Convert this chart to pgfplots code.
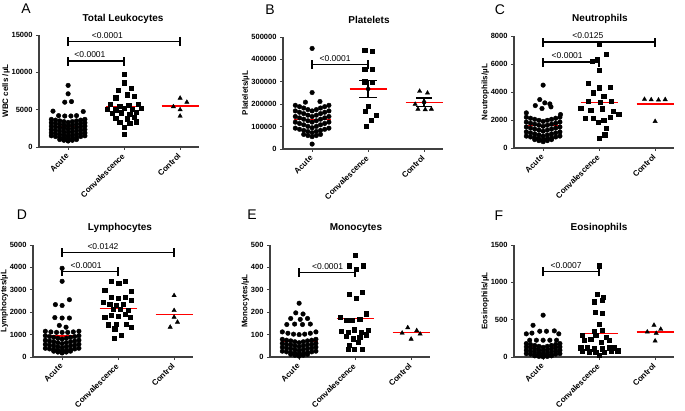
\documentclass[border=0pt]{standalone}
\usepackage{fontspec}
\setmainfont{Liberation Sans}
\usepackage{pgfplots}
\pgfplotsset{compat=1.18}

\pgfplotsset{
  panel/.style={
    scale only axis, width=159.6pt, height=112pt,
    xmin=-0.52, xmax=2.33, ymin=0,
    axis x line=bottom, axis y line=left,
    axis line style={-, line width=1.1pt, black!75},
    tick align=outside, major tick length=3pt,
    tick style={line width=0.9pt, black!75},
    xtick={0,1,2}, xticklabels={Acute,Convalescence,Control},
    xticklabel shift=4pt,
    xticklabel style={rotate=45, anchor=east, inner sep=1pt,
      font=\bfseries\fontsize{8}{9}\selectfont},
    yticklabel style={font=\bfseries\fontsize{7.5}{9}\selectfont},
    ylabel style={font=\bfseries\fontsize{8}{9}\selectfont},
    ylabel shift=-5pt,
    scaled y ticks=false, clip=false,
  },
  dots/.style={only marks, mark=*, mark size=2.3pt, black},
  sq/.style={only marks, mark=square*, mark size=2.1pt, black},
  tri/.style={only marks, mark=triangle*, mark size=2.5pt, black},
  meanln/.style={red, line width=1.3pt, no marks},
}
% bracket: from x1 to x2 at height y, p-value text centred at xt
\newcommand\brk[5]{%
  \draw[line width=1.3pt] (axis cs:#1,#3) -- (axis cs:#2,#3);
  \draw[line width=1.3pt] ([yshift=-4.5pt]axis cs:#1,#3) -- ([yshift=4.5pt]axis cs:#1,#3);
  \draw[line width=1.3pt] ([yshift=-4.5pt]axis cs:#2,#3) -- ([yshift=4.5pt]axis cs:#2,#3);
  \node[anchor=south, inner sep=0pt, yshift=3pt, font=\fontsize{8.5}{10}\selectfont] at (axis cs:#4,#3) {#5};
}

\begin{document}
\begin{tikzpicture}
\useasboundingbox (0,0) rectangle (685pt,410pt);

% ---------- A ----------
\begin{axis}[panel, at={(39pt,263pt)}, anchor=south west, ymax=15000,
  ytick={0,5000,10000,15000}, yticklabels={0,5000,10000,15000},
  ylabel={WBC cells /µL}]
\addplot[dots] coordinates {
 (0,8250) (0,7125) (-0.06,6000) (0.06,6085) (-0.27,4800) (0.27,4750)
 (-0.17,4200) (-0.06,4150) (0.05,4150) (0.15,4200)
 (-0.3,3700) (-0.225,3600) (-0.15,3500) (-0.075,3400) (0,3300) (0.075,3400) (0.15,3500) (0.225,3600) (0.3,3700)
 (-0.3,3250) (-0.225,3150) (-0.15,3050) (-0.075,2950) (0,2850) (0.075,2950) (0.15,3050) (0.225,3150) (0.3,3250)
 (-0.3,2800) (-0.225,2700) (-0.15,2600) (-0.075,2500) (0,2400) (0.075,2500) (0.15,2600) (0.225,2700) (0.3,2800)
 (-0.3,2350) (-0.225,2250) (-0.15,2150) (-0.075,2050) (0,1950) (0.075,2050) (0.15,2150) (0.225,2250) (0.3,2350)
 (-0.3,1900) (-0.225,1800) (-0.15,1700) (-0.075,1600) (0,1500) (0.075,1600) (0.15,1700) (0.225,1800) (0.3,1900)
 (-0.3,1500) (-0.225,1400) (-0.15,1300) (-0.075,1200) (0,1100) (0.075,1200) (0.15,1300) (0.225,1400) (0.3,1500)
 (-0.15,1000) (-0.075,900) (0,800) (0.075,900) (0.15,1000)
};
\addplot[sq] coordinates {
 (1,9700) (1,8600) (0.9,7600) (1.12,7900) (1.05,7000) (0.85,6600) (1.18,6800)
 (0.75,5700) (0.92,5500) (1.08,5600) (1.25,5700) (0.7,5100) (0.85,5000) (1,5200)
 (1.15,5050) (1.3,5200) (0.78,4500) (0.95,4600) (1.1,4400) (1.22,4700) (0.85,3900)
 (1.05,3800) (1.18,4000) (0.92,3300) (1.1,3200) (1.22,3400) (1,2700) (1,1700)
};
\addplot[tri] coordinates {(2,6550) (2.12,6000) (1.88,5400) (2,5000) (2,4150)};
\addplot[meanln] coordinates {(-0.33,2700) (0.33,2700)};
\addplot[meanln] coordinates {(0.67,5400) (1.33,5400)};
\addplot[meanln] coordinates {(1.67,5500) (2.33,5500)};
\brk{0}{2}{14100}{0.7}{<0.0001}
\brk{0}{1}{11500}{0.39}{<0.0001}
\end{axis}

% ---------- B ----------
\begin{axis}[panel, at={(283pt,261pt)}, anchor=south west, ymax=500000,
  ytick={0,100000,200000,300000,400000,500000},
  yticklabels={0,100000,200000,300000,400000,500000},
  ylabel={Platelets/µL}]
\addplot[dots] coordinates {
 (0,449000) (0,252000) (-0.12,209000) (0.14,212000) (0,22000)
 (-0.3,195000) (-0.225,189000) (-0.15,183000) (-0.075,176000) (0,170000) (0.075,176000) (0.15,183000) (0.225,189000) (0.3,195000)
 (-0.3,170000) (-0.225,164000) (-0.15,158000) (-0.075,151000) (0,145000) (0.075,151000) (0.15,158000) (0.225,164000) (0.3,170000)
 (-0.3,145000) (-0.225,139000) (-0.15,133000) (-0.075,126000) (0,120000) (0.075,126000) (0.15,133000) (0.225,139000) (0.3,145000)
 (-0.3,120000) (-0.225,114000) (-0.15,108000) (-0.075,101000) (0,95000) (0.075,101000) (0.15,108000) (0.225,114000) (0.3,120000)
 (-0.3,93000) (-0.225,88000) (-0.15,83000) (-0.075,78000) (0,73000) (0.075,78000) (0.15,83000) (0.225,88000) (0.3,93000)
 (-0.15,65000) (-0.075,60000) (0,55000) (0.075,60000) (0.15,65000)
};
\addplot[sq] coordinates {
 (0.94,441000) (1.07,437000) (0.94,356000) (1.07,356000) (0.94,300000) (1.07,298000)
 (1.0,190000) (0.95,168000) (1.14,152000) (1.06,130000) (0.96,103000)
};
\addplot[tri] coordinates {(1.92,258000) (2.06,250000) (1.84,200000) (1.89,178000) (2.02,176000) (2.13,178000)};
\addplot[black, only marks, mark=none, error bars/.cd, y dir=both, y explicit,
  error bar style={line width=1.3pt, black},
  error mark options={rotate=90, mark size=8.7pt, line width=1.3pt, black}]
  coordinates {(1,268000) +- (0,37000)};
\addplot[black, only marks, mark=none, error bars/.cd, y dir=both, y explicit,
  error bar style={line width=1.3pt, black},
  error mark options={rotate=90, mark size=7.8pt, line width=1.3pt, black}]
  coordinates {(2,209000) +- (0,18500)};
\addplot[meanln] coordinates {(-0.33,132000) (0.33,132000)};
\addplot[meanln] coordinates {(0.67,268000) (1.33,268000)};
\addplot[meanln] coordinates {(1.67,209000) (2.33,209000)};
\brk{0}{1}{378000}{0.41}{<0.0001}
\end{axis}

% ---------- C ----------
\begin{axis}[panel, at={(514pt,262pt)}, anchor=south west, ymax=8000,
  ytick={0,2000,4000,6000,8000}, yticklabels={0,2000,4000,6000,8000},
  ylabel={Neutrophils/µL}]
\addplot[dots] coordinates {
 (0,4490) (-0.06,3460) (-0.14,3030) (0.03,3225) (0.12,3150) (0.14,2940) (-0.02,2820) (-0.3,2510) (0.31,2390)
 (-0.3,2200) (-0.225,2125) (-0.15,2050) (-0.075,1975) (0,1900) (0.075,1975) (0.15,2050) (0.225,2125) (0.3,2200)
 (-0.3,1850) (-0.225,1775) (-0.15,1700) (-0.075,1625) (0,1550) (0.075,1625) (0.15,1700) (0.225,1775) (0.3,1850)
 (-0.3,1500) (-0.225,1425) (-0.15,1350) (-0.075,1275) (0,1200) (0.075,1275) (0.15,1350) (0.225,1425) (0.3,1500)
 (-0.3,1150) (-0.225,1075) (-0.15,1000) (-0.075,925) (0,850) (0.075,925) (0.15,1000) (0.225,1075) (0.3,1150)
 (-0.3,850) (-0.225,788) (-0.15,725) (-0.075,663) (0,600) (0.075,663) (0.15,725) (0.225,788) (0.3,850)
 (-0.15,600) (-0.075,525) (0,450) (0.075,525) (0.15,600)
};
\addplot[sq] coordinates {
 (1,7450) (1.12,6700) (0.88,6200) (0.96,6350) (1,5550) (0.8,4600) (1,4300) (1.2,4350)
 (0.9,3950) (1.08,3700) (0.8,3350) (1.02,3250) (1.22,3350) (0.67,2850) (0.85,2700)
 (1.05,2800) (1.25,2650) (1.35,2400) (0.75,2150) (0.9,2100) (1.08,2000) (1.2,2200)
 (0.98,1850) (1.12,1400) (1.1,950) (1,700)
};
\addplot[tri] coordinates {(1.81,3480) (1.93,3450) (2.06,3430) (2.18,3460) (2,1900)};
\addplot[meanln] coordinates {(-0.33,1600) (0.33,1600)};
\addplot[meanln] coordinates {(0.67,3225) (1.33,3225)};
\addplot[meanln] coordinates {(1.67,3150) (2.33,3150)};
\brk{0}{2}{7570}{0.8}{<0.0125}
\brk{0}{1}{6136}{0.43}{<0.0001}
\end{axis}

% ---------- D ----------
\begin{axis}[panel, at={(33pt,53pt)}, anchor=south west, ymax=5000,
  ytick={0,1000,2000,3000,4000,5000}, yticklabels={0,1000,2000,3000,4000,5000},
  ylabel={Lymphocytes/µL}]
\addplot[dots] coordinates {
 (0,3960) (0,3380) (0.13,2560) (-0.12,2340) (0,2300) (-0.13,1760) (0,1740) (0.13,1740) (-0.05,1410) (0.07,1330)
 (-0.3,1150) (-0.2,1120) (-0.1,1100) (0,1100) (0.1,1100) (0.2,1120) (0.3,1150)
 (-0.3,950) (-0.225,913) (-0.15,875) (-0.075,838) (0,800) (0.075,838) (0.15,875) (0.225,913) (0.3,950)
 (-0.3,750) (-0.225,713) (-0.15,675) (-0.075,638) (0,600) (0.075,638) (0.15,675) (0.225,713) (0.3,750)
 (-0.3,570) (-0.225,533) (-0.15,495) (-0.075,458) (0,420) (0.075,458) (0.15,495) (0.225,533) (0.3,570)
 (-0.3,390) (-0.225,360) (-0.15,330) (-0.075,300) (0,270) (0.075,300) (0.15,330) (0.225,360) (0.3,390)
 (-0.15,260) (-0.075,220) (0,180) (0.075,220) (0.15,260)
};
\addplot[sq] coordinates {
 (0.88,3381) (1.01,3309) (1.12,3381) (0.76,2967) (1.24,2936) (0.88,2669) (1,2625)
 (1.12,2669) (0.73,2447) (0.85,2373) (0.97,2300) (1.09,2373) (1.24,2522) (0.91,2150)
 (1.03,2150) (1.18,2100) (0.76,1780) (0.88,1850) (1,1820) (1.12,1900) (1.21,1780)
 (0.82,1440) (0.97,1460) (1.15,1460) (0.94,1263) (1.24,1337) (1.06,965) (0.93,845)
};
\addplot[tri] coordinates {(2,2744) (2,2077) (2,1780) (2.06,1557) (1.93,1334)};
\addplot[meanln] coordinates {(-0.33,934) (0.33,934)};
\addplot[meanln] coordinates {(0.67,2152) (1.33,2152)};
\addplot[meanln] coordinates {(1.67,1900) (2.33,1900)};
\brk{0}{2}{4671}{0.73}{<0.0142}
\brk{0}{1}{3812}{0.43}{<0.0001}
\end{axis}

% ---------- E ----------
\begin{axis}[panel, at={(270pt,53pt)}, anchor=south west, ymax=500,
  ytick={0,100,200,300,400,500}, yticklabels={0,100,200,300,400,500},
  ylabel={Monocytes/µL}]
\addplot[dots] coordinates {
 (0,240) (-0.06,197) (0.07,192) (-0.15,172) (0.02,168) (0.15,172) (-0.22,145) (-0.08,147) (0.06,145) (0.2,147)
 (-0.3,112) (-0.2,106) (-0.1,102) (0,100) (0.1,102) (0.2,106) (0.3,112)
 (-0.3,79) (-0.225,75) (-0.15,72) (-0.075,68) (0,64) (0.075,68) (0.15,72) (0.225,75) (0.3,79)
 (-0.3,61) (-0.225,57) (-0.15,54) (-0.075,50) (0,46) (0.075,50) (0.15,54) (0.225,57) (0.3,61)
 (-0.3,44) (-0.225,40) (-0.15,37) (-0.075,33) (0,29) (0.075,33) (0.15,37) (0.225,40) (0.3,44)
 (-0.3,26) (-0.225,23) (-0.15,20) (-0.075,17) (0,14) (0.075,17) (0.15,20) (0.225,23) (0.3,26)
 (-0.15,12) (-0.075,8) (0,4) (0.075,8) (0.15,12)
};
\addplot[sq] coordinates {
 (1,455) (0.9,408) (1.14,408) (1.02,393) (0.89,282) (1.12,289) (1.02,262) (1.2,193)
 (0.74,178) (0.84,166) (0.94,166) (1.08,170) (0.75,116) (0.87,111) (0.98,122) (1.11,111)
 (1.24,119) (0.84,92) (0.96,82) (1.08,87) (1.2,100) (0.9,52) (1.06,67) (0.87,34) (0.99,34) (1.12,34)
};
\addplot[tri] coordinates {(1.94,131) (2.1,118) (1.84,107) (2.16,103) (2,80)};
\addplot[meanln] coordinates {(-0.33,69) (0.33,69)};
\addplot[meanln] coordinates {(0.67,173) (1.33,173)};
\addplot[meanln] coordinates {(1.67,110) (2.33,110)};
\brk{0}{1}{378}{0.51}{<0.0001}
\end{axis}

% ---------- F ----------
\begin{axis}[panel, at={(514pt,53pt)}, anchor=south west, ymax=1500,
  ytick={0,500,1000,1500}, yticklabels={0,500,1000,1500},
  ylabel={Eosinophils/µL}]
\addplot[dots] coordinates {
 (0,560) (-0.18,425) (-0.3,310) (-0.2,320) (-0.06,345) (0.06,345) (0.2,350) (0.28,310)
 (-0.24,225) (-0.12,225) (0,225) (0.12,225) (0.24,225)
 (-0.3,180) (-0.225,168) (-0.15,155) (-0.075,143) (0,130) (0.075,143) (0.15,155) (0.225,168) (0.3,180)
 (-0.3,135) (-0.225,123) (-0.15,110) (-0.075,98) (0,85) (0.075,98) (0.15,110) (0.225,123) (0.3,135)
 (-0.3,90) (-0.225,79) (-0.15,68) (-0.075,56) (0,45) (0.075,56) (0.15,68) (0.225,79) (0.3,90)
 (-0.3,45) (-0.225,38) (-0.15,30) (-0.075,23) (0,15) (0.075,23) (0.15,30) (0.225,38) (0.3,45)
 (-0.15,15) (-0.075,8) (0,3) (0.075,8) (0.15,15)
};
\addplot[sq] coordinates {
 (1,1222) (0.97,840) (1.07,805) (0.91,740) (1.06,760) (0.93,596) (1.05,583) (1,439)
 (0.91,345) (1.06,359) (0.7,291) (1.12,269) (0.94,291) (0.73,224) (0.85,238) (1.03,202)
 (1.18,224) (0.67,124) (0.79,124) (0.91,110) (1.06,110) (1.18,124) (1.27,124) (1,23)
 (0.7,80) (0.82,70) (0.94,60) (1.09,65) (1.21,75) (1.33,85)
};
\addplot[tri] coordinates {(1.98,426) (2.1,372) (1.86,336) (2.02,318) (2,215)};
\addplot[meanln] coordinates {(-0.33,144) (0.33,144)};
\addplot[meanln] coordinates {(0.67,314) (1.33,314)};
\addplot[meanln] coordinates {(1.67,333) (2.33,333)};
\brk{0}{1}{1141}{0.41}{<0.0007}
\end{axis}

% titles and panel letters
\begin{scope}[every node/.style={font=\bfseries\fontsize{10}{12}\selectfont}]
\node at (123pt,391pt) {Total Leukocytes};
\node at (369pt,390pt) {Platelets};
\node at (600pt,391pt) {Neutrophils};
\node at (120pt,182pt) {Lymphocytes};
\node at (356pt,182pt) {Monocytes};
\node at (599pt,182pt) {Eosinophils};
\end{scope}
\begin{scope}[every node/.style={font=\fontsize{14}{16}\selectfont}]
\node at (26pt,401pt) {A};
\node at (270pt,400pt) {B};
\node at (500pt,400pt) {C};
\node at (22pt,195pt) {D};
\node at (252pt,195pt) {E};
\node at (499pt,194pt) {F};
\end{scope}
\end{tikzpicture}
\end{document}
